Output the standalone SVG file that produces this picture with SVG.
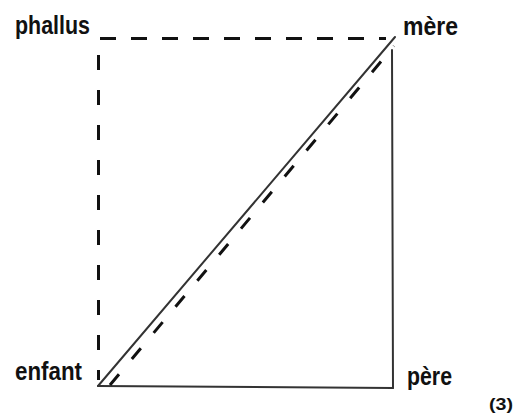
<svg xmlns="http://www.w3.org/2000/svg" width="518" height="416" viewBox="0 0 518 416">
<style>
.lbl{font-family:"Liberation Sans",Arial,sans-serif;font-weight:bold;font-size:26px;fill:#111}
.solid{stroke:#333;stroke-width:2;fill:none;stroke-linecap:round}
.dash{stroke:#111;stroke-width:3;fill:none}
</style>
<rect width="518" height="416" fill="#fff"/>
<g id="connectors">
<line class="solid" x1="98" y1="386" x2="395" y2="37"/>
<line class="solid" x1="392" y1="50" x2="393" y2="388"/>
<line class="solid" x1="98" y1="386" x2="393" y2="388"/>
<line class="dash" x1="100" y1="38.5" x2="386" y2="38.5" stroke-dasharray="16 15"/>
<line class="dash" x1="98.5" y1="55" x2="98.5" y2="380" stroke-dasharray="15 20"/>
<line class="dash" x1="110" y1="385" x2="394" y2="46" stroke-dasharray="14 20"/>
</g>
<g id="phallus"><text class="lbl" x="15" y="34" textLength="75" lengthAdjust="spacingAndGlyphs">phallus</text></g>
<g id="mere"><text class="lbl" x="403" y="35" textLength="55" lengthAdjust="spacingAndGlyphs">mère</text></g>
<g id="enfant"><text class="lbl" x="15" y="380" textLength="67" lengthAdjust="spacingAndGlyphs">enfant</text></g>
<g id="pere"><text class="lbl" x="407" y="385" textLength="45" lengthAdjust="spacingAndGlyphs">père</text></g>
<g id="num"><text class="lbl" x="489" y="410" style="font-size:17px" textLength="24" lengthAdjust="spacingAndGlyphs">(3)</text></g>
</svg>
